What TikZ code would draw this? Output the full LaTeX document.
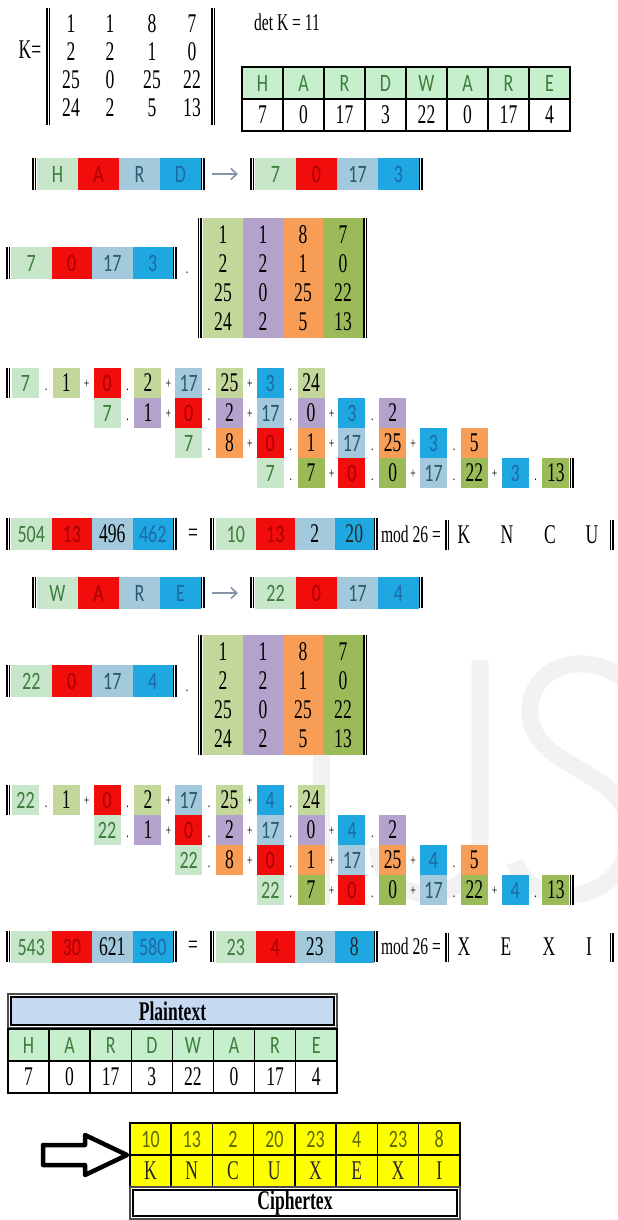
\documentclass[tikz,border=0pt]{standalone}
\usepackage{fontspec}
\setmainfont{Liberation Serif}[FakeStretch=0.65]
\newfontfamily\cellsf{Carlito}[FakeStretch=0.72]
\usetikzlibrary{positioning,calc,arrows.meta}

% cell colours
\definecolor{cLg}{HTML}{C8E6C9}
\definecolor{cRd}{HTML}{F20D0D}
\definecolor{cLb}{HTML}{A3C9DC}
\definecolor{cSk}{HTML}{1EA7E1}
\definecolor{cOl}{HTML}{C4D79B}
\definecolor{cLv}{HTML}{B3A3CC}
\definecolor{cOr}{HTML}{F79D55}
\definecolor{cOd}{HTML}{9BBB59}
\definecolor{cHd}{HTML}{C6EFCE}
\definecolor{cPl}{HTML}{C5D9F1}
\definecolor{cYl}{HTML}{FFFF00}
\definecolor{cAr}{HTML}{8394AB}
% text colours
\definecolor{tG}{HTML}{3C7D3C}
\definecolor{tR}{HTML}{A80000}
\definecolor{tB}{HTML}{2E5A6E}
\definecolor{tD}{HTML}{1C6AA6}
\definecolor{tY}{HTML}{5E6A00}

\newcommand{\serifnum}{\fontsize{27}{29}\selectfont}
\newcommand{\sansnum}{\cellsf\fontsize{25}{28}\selectfont}

% double bar: x, y1, y2
\newcommand{\dbar}[3]{%
  \draw[dbl] (#1,#2) -- (#1,#3);
  \draw[dbl] (#1+2.4,#2) -- (#1+2.4,#3);}

% four coloured cells: name, x, y, width, list text/fill/colour/font
\newcommand{\vecfour}[5]{%
  \foreach \t/\f/\c/\ff [count=\i from 0] in {#5}
    \node[cell, minimum width=#4pt, fill=\f, text=\c, font=\ff] (#1\i) at (#2+#4*\i,#3) {\t};}

% key matrix with coloured columns: name, x, y
\newcommand{\keymat}[3]{%
  \foreach \f [count=\c from 0] in {cOl,cLv,cOr,cOd}
    \fill[\f] (#2+40*\c,#3) rectangle (#2+40*\c+40,#3+120);
  \foreach \ma/\mb/\mc/\md [count=\r from 0] in {1/1/8/7, 2/2/1/0, 25/0/25/22, 24/2/5/13} {
    \node (#1-\r-0) at (#2+20,#3+17+29*\r) {\ma};
    \node (#1-\r-1) at (#2+60,#3+17+29*\r) {\mb};
    \node (#1-\r-2) at (#2+100,#3+17+29*\r) {\mc};
    \node (#1-\r-3) at (#2+140,#3+17+29*\r) {\md};
  }
  \dbar{#2-4.5}{#3}{#3+120}
  \dbar{#2+161}{#3}{#3+120}}

% one row of the product: name, row, y, column colour, list v/fill/colour/m
\newcommand{\termrow}[5]{%
  \foreach \v/\vf/\vt/\m [count=\j from 0] in {#5} {
    \pgfmathsetmacro{\xa}{12+40.8*(2*#2+2*\j)}
    \node[mcell, fill=\vf, text=\vt, font=\sansnum] (#1a\j) at (\xa,#3) {\v};
    \node[mcell, fill=#4] (#1b\j) at (\xa+40.8,#3) {\m};
    \node[sym] (#1d\j) at (\xa+34,#3+22) {.};
    \ifnum\j<3 \node[sym] (#1p\j) at (\xa+74.7,#3+16) {+}; \fi
  }}

\begin{document}
\begin{tikzpicture}[x=1pt, y=-1pt,
  every node/.style={inner sep=0pt, outer sep=0pt, font=\serifnum},
  cell/.style={rectangle, anchor=north west, minimum height=32pt},
  mcell/.style={rectangle, anchor=north west, minimum width=27pt, minimum height=30pt},
  tcell/.style={rectangle, anchor=north west, draw=black, line width=1.4pt,
                minimum width=41pt, minimum height=32pt},
  sym/.style={font=\fontsize{15}{16}\selectfont},
  modtext/.style={font=\fontsize{24}{26}\selectfont},
  dbl/.style={line width=1.5pt, black},
  thin arrow/.style={-{Straight Barb[length=6pt, width=11pt]}, line width=1.6pt, cAr},
  wmark/.style={line width=17pt, black!5}
]
\useasboundingbox (0,0) rectangle (618,1220);

% watermark
\begin{scope}
  \clip (0,0) rectangle (618,1220);
  \draw[wmark] (321,660) -- (321,905);
  \draw[wmark] (480,660) -- (480,840) .. controls (480,910) and (378,910) .. (378,848);
  \draw[wmark] (640,700) .. controls (615,648) and (530,652) .. (530,712)
    .. controls (530,770) and (628,768) .. (630,830)
    .. controls (632,905) and (532,915) .. (515,862);
\end{scope}

% key and det
\node (kname) at (30,50) {K=};
\dbar{47}{8}{125}
\dbar{212}{8}{125}
\foreach \ma/\mb/\mc/\md [count=\r from 0] in {1/1/8/7, 2/2/1/0, 25/0/25/22, 24/2/5/13} {
  \node (k-\r-0) at (71,24+28*\r) {\ma};
  \node (k-\r-1) at (110,24+28*\r) {\mb};
  \node (k-\r-2) at (152,24+28*\r) {\mc};
  \node (k-\r-3) at (192,24+28*\r) {\md};
}
\node[modtext] (det) at (287,22) {det K = 11};

% plaintext table at the top
\foreach \l/\n [count=\i from 0] in {H/7,A/0,R/17,D/3,W/22,A/0,R/17,E/4} {
  \node[tcell, fill=cHd, text=tG, font=\sansnum] (top\i) at (242+41*\i,67) {\l};
  \node[tcell] (topn\i) at (242+41*\i,99) {\n};
}
\draw[line width=2.6pt] (top0.north west) rectangle (topn7.south east);

% HARD -> numbers
\dbar{33}{158}{190}
\vecfour{hard}{37}{158}{41}{H/cLg/tG/\sansnum, A/cRd/tR/\sansnum, R/cLb/tB/\sansnum, D/cSk/tD/\sansnum}
\dbar{201.5}{158}{190}
\dbar{251}{158}{190}
\vecfour{hardn}{255}{158}{41}{7/cLg/tG/\sansnum, 0/cRd/tR/\sansnum, 17/cLb/tB/\sansnum, 3/cSk/tD/\sansnum}
\dbar{419.5}{158}{190}
\draw[thin arrow] ([xshift=11pt]hard3.east) -- ([xshift=-17pt]hardn0.west);

% vector . key
\dbar{7}{247}{279}
\vecfour{pa}{11}{247}{40.5}{7/cLg/tG/\sansnum, 0/cRd/tR/\sansnum, 17/cLb/tB/\sansnum, 3/cSk/tD/\sansnum}
\dbar{173.5}{247}{279}
\node[sym] (pdot) at (187,273) {.};
\keymat{ka}{203}{218}

% products, first block
\dbar{7}{368}{398}
\termrow{ra}{0}{368}{cOl}{7/cLg/tG/1, 0/cRd/tR/2, 17/cLb/tB/25, 3/cSk/tD/24}
\termrow{rb}{1}{398}{cLv}{7/cLg/tG/1, 0/cRd/tR/2, 17/cLb/tB/0, 3/cSk/tD/2}
\termrow{rc}{2}{428}{cOr}{7/cLg/tG/8, 0/cRd/tR/1, 17/cLb/tB/25, 3/cSk/tD/5}
\termrow{rd}{3}{458}{cOd}{7/cLg/tG/7, 0/cRd/tR/0, 17/cLb/tB/22, 3/cSk/tD/13}
\dbar{570.5}{458}{488}

% result, first block
\dbar{7}{518}{550}
\vecfour{sa}{11}{518}{40.5}{504/cLg/tG/\sansnum, 13/cRd/tR/\sansnum, 496/cLb/black/\serifnum, 462/cSk/tD/\sansnum}
\dbar{173.5}{518}{550}
\node (eqa) at (193,535) {=};
\dbar{211}{518}{550}
\vecfour{ma}{216}{518}{39.5}{10/cLg/tG/\sansnum, 13/cRd/tR/\sansnum, 2/cLb/black/\serifnum, 20/cSk/black!85/\serifnum}
\dbar{374.5}{518}{550}
\node[modtext] (moda) at (411,534) {mod 26 =};
\dbar{446}{520}{550}
\node (ca0) at (464,535) {K};
\node (ca1) at (507,535) {N};
\node (ca2) at (550,535) {C};
\node (ca3) at (592,535) {U};
\dbar{610.5}{520}{550}

% WARE -> numbers
\dbar{33}{577}{608}
\vecfour{ware}{37}{577}{41}{W/cLg/tG/\sansnum, A/cRd/tR/\sansnum, R/cLb/tB/\sansnum, E/cSk/tD/\sansnum}
\dbar{201.5}{577}{608}
\dbar{251}{577}{608}
\vecfour{waren}{255}{577}{41}{22/cLg/tG/\sansnum, 0/cRd/tR/\sansnum, 17/cLb/tB/\sansnum, 4/cSk/tD/\sansnum}
\dbar{419.5}{577}{608}
\draw[thin arrow] ([xshift=11pt]ware3.east) -- ([xshift=-17pt]waren0.west);

% vector . key
\dbar{7}{665}{697}
\vecfour{pb}{11}{665}{40.5}{22/cLg/tG/\sansnum, 0/cRd/tR/\sansnum, 17/cLb/tB/\sansnum, 4/cSk/tD/\sansnum}
\dbar{173.5}{665}{697}
\node[sym] (pdotb) at (187,691) {.};
\keymat{kb}{203}{635}

% products, second block
\dbar{7}{785}{815}
\termrow{qa}{0}{785}{cOl}{22/cLg/tG/1, 0/cRd/tR/2, 17/cLb/tB/25, 4/cSk/tD/24}
\termrow{qb}{1}{815}{cLv}{22/cLg/tG/1, 0/cRd/tR/2, 17/cLb/tB/0, 4/cSk/tD/2}
\termrow{qc}{2}{845}{cOr}{22/cLg/tG/8, 0/cRd/tR/1, 17/cLb/tB/25, 4/cSk/tD/5}
\termrow{qd}{3}{875}{cOd}{22/cLg/tG/7, 0/cRd/tR/0, 17/cLb/tB/22, 4/cSk/tD/13}
\dbar{570.5}{875}{905}

% result, second block
\dbar{7}{931}{962}
\vecfour{sb}{11}{931}{40.5}{543/cLg/tG/\sansnum, 30/cRd/tR/\sansnum, 621/cLb/black/\serifnum, 580/cSk/tD/\sansnum}
\dbar{173.5}{931}{962}
\node (eqb) at (193,947) {=};
\dbar{211}{931}{962}
\vecfour{mb}{216}{931}{39.5}{23/cLg/tG/\sansnum, 4/cRd/tR/\sansnum, 23/cLb/black/\serifnum, 8/cSk/black!85/\serifnum}
\dbar{374.5}{931}{962}
\node[modtext] (modb) at (411,946) {mod 26 =};
\dbar{446}{933}{962}
\node (cb0) at (464,947) {X};
\node (cb1) at (506,947) {E};
\node (cb2) at (549,947) {X};
\node (cb3) at (589,947) {I};
\dbar{610.5}{933}{962}

% plaintext table
\draw[black!70, line width=1.2pt] (8,994) rectangle (337,1028);
\node[draw=black, line width=1.2pt, fill=cPl, minimum width=323pt, minimum height=28pt,
      font=\bfseries\serifnum] (ptitle) at (172.5,1011) {Plaintext};
\foreach \l/\n [count=\i from 0] in {H/7,A/0,R/17,D/3,W/22,A/0,R/17,E/4} {
  \node[tcell, fill=cHd, text=tG, font=\sansnum] (pl\i) at (8+41.1*\i,1029) {\l};
  \node[tcell] (pn\i) at (8+41.1*\i,1061) {\n};
}
\draw[line width=2pt] (pl0.north west) rectangle (pn7.south east);

% ciphertext table
\foreach \n/\l [count=\i from 0] in {10/K,13/N,2/C,20/U,23/X,4/E,23/X,8/I} {
  \node[tcell, fill=cYl, text=tY, font=\sansnum] (cn\i) at (130+41.25*\i,1123) {\n};
  \node[tcell, fill=cYl, text=black!85] (cl\i) at (130+41.25*\i,1155) {\l};
}
\draw[line width=2pt] (cn0.north west) rectangle (cl7.south east);
\draw[black!70, line width=1.2pt] (130,1187) rectangle (460,1219);
\node[draw=black, line width=1.2pt, fill=white, minimum width=324pt, minimum height=26pt,
      font=\bfseries\serifnum] (ctitle) at (295,1203) {Ciphertex};

% block arrow
\coordinate (tip) at ([xshift=-3pt]cl0.north west);
\draw[line width=4.5pt, fill=white, line join=round]
  (tip) -- ++(-42,-20) -- ++(0,10) -- ++(-42,0) -- ++(0,20) -- ++(42,0) -- ++(0,10) -- cycle;
\end{tikzpicture}
\end{document}
